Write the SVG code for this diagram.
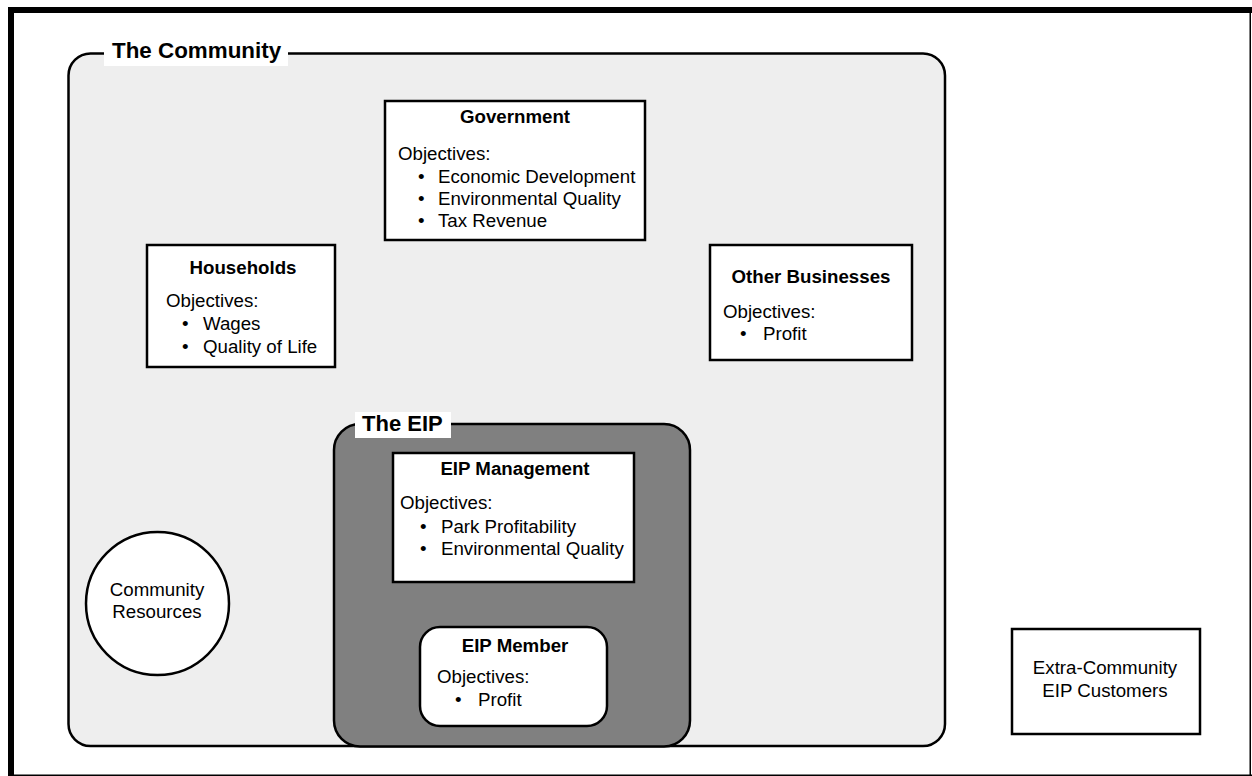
<svg xmlns="http://www.w3.org/2000/svg" width="1252" height="776" viewBox="0 0 1252 776">
<style>
text{font-family:"Liberation Sans",Arial,sans-serif;fill:#000;}
.t{font-size:18.7px;}
.b{font-size:18.7px;font-weight:bold;}
.lbl{font-size:22px;font-weight:bold;}
.box{fill:#fff;stroke:#000;stroke-width:2.5;}
</style>
<rect x="0" y="0" width="1252" height="776" fill="#fff"/>
<g id="frame">
<rect x="8" y="7" width="1244" height="6" fill="#000"/>
<rect x="8" y="7" width="6" height="769" fill="#000"/>
<rect x="1249.5" y="7" width="1.5" height="769" fill="#000"/>
<rect x="8" y="774.5" width="1244" height="1.5" fill="#000"/>
</g>
<g id="community">
<rect x="68.5" y="53.5" width="876.5" height="692.5" rx="22" fill="#eeeeee" stroke="#000" stroke-width="2.5"/>
<rect x="104" y="37" width="184" height="29" fill="#fff"/>
<text class="lbl" x="112" y="58" style="font-size:22.4px">The Community</text>
</g>
<g id="government">
<rect class="box" x="385" y="101" width="260" height="139"/>
<text class="b" x="515" y="123" text-anchor="middle">Government</text>
<text class="t" x="398" y="160">Objectives:</text>
<text class="t" x="418" y="183">•</text><text class="t" x="438" y="183">Economic Development</text>
<text class="t" x="418" y="205">•</text><text class="t" x="438" y="205">Environmental Quality</text>
<text class="t" x="418" y="227">•</text><text class="t" x="438" y="227">Tax Revenue</text>
</g>
<g id="households">
<rect class="box" x="147" y="245" width="188" height="122"/>
<text class="b" x="243" y="274" text-anchor="middle">Households</text>
<text class="t" x="166" y="307">Objectives:</text>
<text class="t" x="182" y="330">•</text><text class="t" x="203" y="330">Wages</text>
<text class="t" x="182" y="353">•</text><text class="t" x="203" y="353">Quality of Life</text>
</g>
<g id="other-businesses">
<rect class="box" x="710" y="245" width="202" height="115"/>
<text class="b" x="811" y="283" text-anchor="middle">Other Businesses</text>
<text class="t" x="723" y="318">Objectives:</text>
<text class="t" x="740" y="340">•</text><text class="t" x="763" y="340">Profit</text>
</g>
<g id="eip">
<rect x="334" y="424" width="356" height="322.5" rx="26" fill="#808080" stroke="#000" stroke-width="2.5"/>
<rect x="355" y="412" width="96" height="26" fill="#fff"/>
<text class="lbl" x="362" y="431">The EIP</text>
</g>
<g id="eip-management">
<rect class="box" x="393" y="453" width="241" height="129"/>
<text class="b" x="515" y="475" text-anchor="middle">EIP Management</text>
<text class="t" x="400" y="509">Objectives:</text>
<text class="t" x="420" y="533">•</text><text class="t" x="441" y="533">Park Profitability</text>
<text class="t" x="420" y="555">•</text><text class="t" x="441" y="555">Environmental Quality</text>
</g>
<g id="eip-member">
<rect class="box" x="420" y="627" width="187" height="99" rx="20"/>
<text class="b" x="515" y="652" text-anchor="middle">EIP Member</text>
<text class="t" x="437" y="683">Objectives:</text>
<text class="t" x="455" y="706">•</text><text class="t" x="478" y="706">Profit</text>
</g>
<g id="community-resources">
<circle cx="157.5" cy="603.5" r="71.5" fill="#fff" stroke="#000" stroke-width="2.5"/>
<text class="t" x="157" y="596" text-anchor="middle">Community</text>
<text class="t" x="157" y="618" text-anchor="middle">Resources</text>
</g>
<g id="extra-community">
<rect class="box" x="1012" y="629" width="188" height="105"/>
<text class="t" x="1105" y="674" text-anchor="middle">Extra-Community</text>
<text class="t" x="1105" y="697" text-anchor="middle">EIP Customers</text>
</g>
<g id="connectors"></g>
</svg>
